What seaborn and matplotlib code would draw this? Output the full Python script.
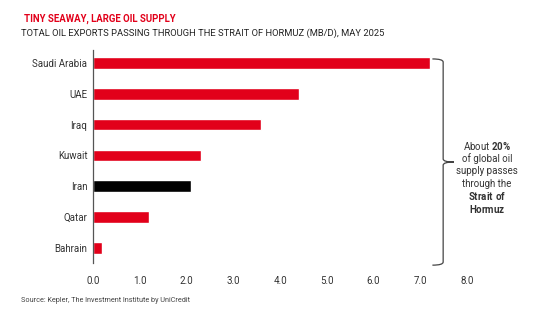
import matplotlib
matplotlib.use("Agg")
import matplotlib.pyplot as plt
import seaborn as sns
import pandas as pd
from matplotlib.path import Path
from matplotlib.patches import PathPatch

countries = ["Saudi Arabia", "UAE", "Iraq", "Kuwait", "Iran", "Qatar", "Bahrain"]
exports = [7.2, 4.4, 3.6, 2.3, 2.1, 1.2, 0.2]
groups = ["other", "other", "other", "other", "iran", "other", "other"]
xticks = [0, 1, 2, 3, 4, 5, 6, 7, 8]
xtick_labels = ["0.0", "1.0", "2.0", "3.0", "4.0", "5.0", "6.0", "7.0", "8.0"]

title = "TINY SEAWAY, LARGE OIL SUPPLY"
subtitle = "TOTAL OIL EXPORTS PASSING THROUGH THE STRAIT OF HORMUZ (MB/D), MAY 2025"
source = "Source: Kepler, The Investment Institute by UniCredit"

RED = "#E2001A"
DARK = "#333333"

sns.set_theme(style="white")
plt.rcParams["font.family"] = ["Roboto", "DejaVu Sans"]
plt.rcParams["mathtext.fontset"] = "custom"
plt.rcParams["mathtext.rm"] = "Roboto"
plt.rcParams["mathtext.bf"] = "Roboto:bold"

df = pd.DataFrame({"country": countries, "value": exports, "group": groups})

fig = plt.figure(figsize=(5.6, 3.23), dpi=100)
ax = fig.add_axes([93 / 560, 1 - 263 / 323, (467 - 93) / 560, (263 - 50) / 323])

sns.barplot(data=df, y="country", x="value", hue="group",
            palette={"other": RED, "iran": "#000000"}, order=countries,
            width=0.38, legend=False, dodge=False, ax=ax, saturation=1)

ax.set_xlim(0, 8)
ax.set_ylim(6.49, -0.42)
ax.set_xticks(xticks)
ax.set_xticklabels(xtick_labels)
ax.set_xlabel("")
ax.set_ylabel("")
for s in ["top", "right", "bottom"]:
    ax.spines[s].set_visible(False)
ax.spines["left"].set_color("#555555")
ax.spines["left"].set_linewidth(0.9)
ax.tick_params(axis="both", length=0, labelsize=7, colors=DARK, pad=4)
ax.tick_params(axis="x", pad=9)

# brace
yt, yb = -0.13, 6.56
ym = (yt + yb) / 2
xl, xv, xt = 7.26, 7.49, 7.72
verts = [(xl, yt), (xv, yt), (xv, yt + 0.1), (xv, ym - 0.1), (xv, ym), (xt, ym),
         (xv, ym), (xv, ym + 0.1), (xv, yb - 0.1), (xv, yb), (xl, yb)]
codes = [Path.MOVETO, Path.CURVE3, Path.CURVE3, Path.LINETO, Path.CURVE3, Path.CURVE3,
         Path.CURVE3, Path.CURVE3, Path.LINETO, Path.CURVE3, Path.CURVE3]
ax.add_patch(PathPatch(Path(verts, codes), fill=False, edgecolor="#444444",
                       linewidth=0.9, clip_on=False))

lines = [r"About $\mathbf{20\%}$", "of global oil", "supply passes", "through the",
         r"$\mathbf{Strait\ of}$", r"$\mathbf{Hormuz}$"]
for i, ln in enumerate(lines):
    fig.text(487 / 560, 1 - (146 + i * 12.6) / 323, ln, ha="center", va="center",
             fontsize=7, color=DARK)

fig.text(24 / 560, 1 - 19 / 323, title, fontsize=6.9, fontweight="bold", color=RED,
         ha="left", va="center")
fig.text(21 / 560, 1 - 33 / 323, subtitle, fontsize=6.75, color="#222222",
         ha="left", va="center")
fig.text(21 / 560, 1 - 300 / 323, source, fontsize=5.2, color="#444444",
         ha="left", va="center")

fig.savefig("out.png", dpi=100)
